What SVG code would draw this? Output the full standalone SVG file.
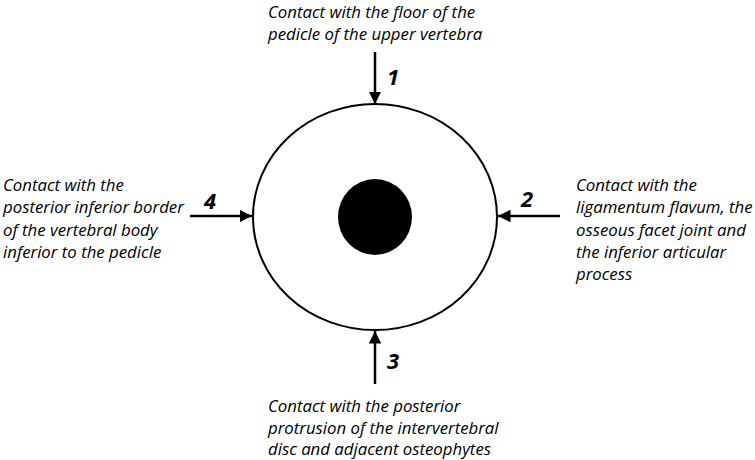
<svg xmlns="http://www.w3.org/2000/svg" width="755" height="460" viewBox="0 0 755 460">
<style>
.t{font-family:"Open Sans","Liberation Sans",sans-serif;font-style:italic;font-size:16.8px;fill:#000}
.n{font-family:"Open Sans","Liberation Sans",sans-serif;font-style:italic;font-weight:bold;font-size:22px;fill:#000}
.a{stroke:#000;stroke-width:2.5;fill:none;marker-end:url(#ah)}
</style>
<defs>
<marker id="ah" viewBox="0 0 10 10" refX="10" refY="5" markerWidth="5" markerHeight="5" orient="auto" markerUnits="strokeWidth">
<path d="M0,0 L10,5 L0,10 z" fill="#000"/>
</marker>
</defs>
<rect width="755" height="460" fill="#fff"/>
<g id="ring">
<ellipse cx="375" cy="217" rx="122" ry="113" fill="#fff" stroke="#000" stroke-width="2"/>
<ellipse cx="375" cy="217" rx="37" ry="38" fill="#000"/>
</g>
<g id="connectors">
<line class="a" x1="375" y1="52" x2="375" y2="104"/>
<line class="a" x1="560" y1="216" x2="498" y2="216"/>
<line class="a" x1="375" y1="384" x2="375" y2="331"/>
<line class="a" x1="190" y1="216" x2="252" y2="216"/>
</g>
<g id="label1">
<text class="n" x="387" y="85">1</text>
<text class="t" x="268" y="18">Contact with the floor of the</text>
<text class="t" x="268" y="40">pedicle of the upper vertebra</text>
</g>
<g id="label2">
<text class="n" x="521" y="207">2</text>
<text class="t" x="576" y="191">Contact with the</text>
<text class="t" x="576" y="213">ligamentum flavum, the</text>
<text class="t" x="576" y="236">osseous facet joint and</text>
<text class="t" x="576" y="258">the inferior articular</text>
<text class="t" x="576" y="280">process</text>
</g>
<g id="label3">
<text class="n" x="387" y="369">3</text>
<text class="t" x="268" y="412">Contact with the posterior</text>
<text class="t" x="268" y="434">protrusion of the intervertebral</text>
<text class="t" x="268" y="455">disc and adjacent osteophytes</text>
</g>
<g id="label4">
<text class="n" x="204" y="209">4</text>
<text class="t" x="3" y="191">Contact with the</text>
<text class="t" x="3" y="213">posterior inferior border</text>
<text class="t" x="3" y="236">of the vertebral body</text>
<text class="t" x="3" y="258">inferior to the pedicle</text>
</g>
</svg>
